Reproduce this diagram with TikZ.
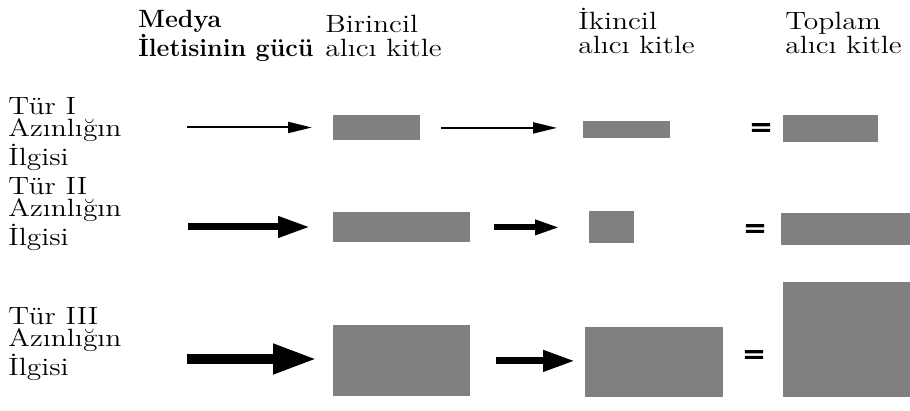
\documentclass[tikz,border=0pt]{standalone}
\usepackage{fontspec}
\newfontfamily\widefont{Latin Modern Roman}[FakeStretch=1.18]
\newfontfamily\eqfont{DejaVu Sans}[FakeBold=3]
\usetikzlibrary{arrows.meta, positioning}
\tikzstyle{headtext} = [anchor=north west, inner sep=0pt, align=left,
    font=\widefont\fontsize{12.5}{12}\selectfont]
\tikzstyle{rowtext} = [anchor=north west, inner sep=0pt, align=left,
    font=\widefont\fontsize{12.5}{11.2}\selectfont]
\tikzstyle{audience} = [fill=black!50, inner sep=0pt, anchor=north west]
\tikzstyle{equals} = [inner sep=0pt, font=\eqfont\fontsize{14}{14}\selectfont]
\tikzstyle{weakarrow} = [-{Triangle[length=12pt,width=5.5pt]}, line width=1pt]
\tikzstyle{midarrow} = [-{Triangle[length=12.5pt,width=7pt]}, line width=3pt]
\tikzstyle{strongarrow} = [-{Triangle[length=16pt,width=10pt]}, line width=3.5pt]
\tikzstyle{heavyarrow} = [-{Triangle[length=22pt,width=14pt]}, line width=5pt]

\begin{document}
\begin{tikzpicture}[x=0.5pt, y=-0.5pt]
    \useasboundingbox (0,0) rectangle (910,411);
    % column heads
    \node[headtext, font=\fontsize{12.5}{11}\selectfont\bfseries] (power) at (138,10) {Medya\\İletisinin gücü};
    \node[headtext] (first) at (325,15) {Birincil\\alıcı kitle};
    \node[headtext] (second) at (578,8) {İkincil\\alıcı kitle};
    \node[headtext] (total) at (785,12) {Toplam\\alıcı kitle};
    % row heads
    \node[rowtext] (type1) at (8,97) {Tür I\\Azınlığın\\İlgisi};
    \node[rowtext] (type2) at (8,177) {Tür II\\Azınlığın\\İlgisi};
    \node[rowtext] (type3) at (8,307) {Tür III\\Azınlığın\\İlgisi};

    % Tür I
    \coordinate (s1) at (187,127.5);
    \node[audience, minimum width=43.5pt, minimum height=12.5pt] (b11) at (333,115) {};
    \node[audience, minimum width=43.5pt, minimum height=8.5pt] (b12) at (583,121) {};
    \node[equals] (eq1) at (761,130) {=};
    \node[audience, minimum width=47.5pt, minimum height=13.5pt] (b13) at (783,115) {};
    \draw[weakarrow, shorten >=10.5pt] (s1) -- (s1 -| b11.west);
    \draw[weakarrow, shorten <=10pt, shorten >=13pt] (b11.east) -- (b11.east -| b12.west);

    % Tür II
    \coordinate (s2) at (188,227);
    \node[audience, minimum width=68.5pt, minimum height=15pt] (b21) at (333,212) {};
    \node[audience, minimum width=22.5pt, minimum height=16pt] (b22) at (589,211) {};
    \node[equals] (eq2) at (755,231) {=};
    \node[audience, minimum width=64.5pt, minimum height=16pt] (b23) at (781,213) {};
    \draw[strongarrow, shorten >=11.5pt] (s2) -- (s2 -| b21.west);
    \draw[midarrow, shorten <=11.5pt, shorten >=14.5pt] (b21.east) -- (b21.east -| b22.west);

    % Tür III
    \coordinate (s3) at (187,359);
    \node[audience, minimum width=68.5pt, minimum height=35.5pt] (b31) at (333,325) {};
    \node[audience, minimum width=69pt, minimum height=35pt] (b32) at (585,327) {};
    \node[equals] (eq3) at (754,357) {=};
    \node[audience, minimum width=63.5pt, minimum height=57.5pt] (b33) at (783,282) {};
    \draw[heavyarrow, shorten >=8pt] (s3) -- (s3 -| b31.west);
    \draw[strongarrow, shorten <=12.5pt, shorten >=5pt] (b31.east) -- (b31.east -| b32.west);
\end{tikzpicture}
\end{document}
